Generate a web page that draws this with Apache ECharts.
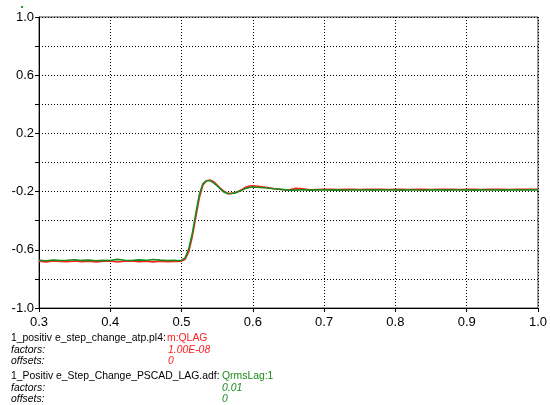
<!DOCTYPE html>
<html><head><meta charset="utf-8">
<script src="https://cdn.jsdelivr.net/npm/echarts@6/dist/echarts.min.js"></script>
<style>html,body{margin:0;padding:0;background:#fff}#c{width:550px;height:405px}</style>
</head><body><div id="c"></div>
<script>
var times = [0.30,0.31,0.32,0.33,0.34,0.35,0.36,0.37,0.38,0.39,0.40,0.41,0.42,0.43,0.44,0.45,0.46,0.47,0.48,0.49,
  0.495,0.50,0.505,0.51,0.515,0.52,0.525,0.53,0.535,0.54,0.545,0.55,0.555,0.56,0.565,0.57,0.575,0.58,0.585,0.59,0.595,0.60,
  0.61,0.62,0.63,0.64,0.65,0.66,0.67,0.68,0.69,0.70,0.71,0.72,0.73,0.74,0.75,0.76,0.77,0.78,0.79,0.80,
  0.81,0.82,0.83,0.84,0.85,0.86,0.87,0.88,0.89,0.90,0.91,0.92,0.93,0.94,0.95,0.96,0.97,0.98,0.99,1.00];
var atpQLAG = [-0.678,-0.683,-0.676,-0.680,-0.682,-0.677,-0.681,-0.679,-0.683,-0.678,-0.677,-0.684,-0.679,-0.676,-0.681,-0.678,-0.683,-0.679,-0.681,-0.680,
  -0.680,-0.678,-0.665,-0.615,-0.510,-0.375,-0.240,-0.155,-0.125,-0.120,-0.132,-0.155,-0.180,-0.200,-0.212,-0.212,-0.208,-0.198,-0.185,-0.170,-0.162,-0.160,
  -0.165,-0.172,-0.180,-0.186,-0.190,-0.178,-0.180,-0.188,-0.186,-0.185,-0.184,-0.186,-0.185,-0.184,-0.186,-0.185,-0.184,-0.185,-0.186,-0.184,
  -0.185,-0.186,-0.184,-0.185,-0.186,-0.184,-0.185,-0.184,-0.186,-0.185,-0.184,-0.186,-0.185,-0.184,-0.185,-0.186,-0.184,-0.185,-0.185,-0.184];
var pscadQrmsLag = [-0.672,-0.675,-0.670,-0.674,-0.672,-0.668,-0.673,-0.671,-0.675,-0.672,-0.674,-0.666,-0.672,-0.674,-0.669,-0.673,-0.667,-0.671,-0.674,-0.672,
  -0.675,-0.672,-0.655,-0.595,-0.490,-0.350,-0.220,-0.145,-0.125,-0.125,-0.140,-0.160,-0.185,-0.205,-0.215,-0.213,-0.210,-0.200,-0.190,-0.178,-0.172,-0.168,
  -0.172,-0.175,-0.180,-0.185,-0.190,-0.190,-0.187,-0.190,-0.188,-0.187,-0.190,-0.188,-0.191,-0.187,-0.189,-0.188,-0.190,-0.187,-0.189,-0.188,
  -0.190,-0.187,-0.189,-0.191,-0.188,-0.187,-0.190,-0.188,-0.189,-0.187,-0.190,-0.188,-0.189,-0.187,-0.190,-0.188,-0.187,-0.189,-0.188,-0.188];

function pairs(ts, vs){ return ts.map(function(t,i){ return [t, vs[i]]; }); }

var chart = echarts.init(document.getElementById('c'), null, {renderer:'canvas'});
var F = 'Liberation Sans, Arial, sans-serif';
var gridDot = {show:true, lineStyle:{color:'#000', width:1, type:[1,2]}};
chart.setOption({
  animation:false,
  grid:{left:39, right:9, top:17, bottom:97, show:true, borderColor:'#444', borderWidth:1, containLabel:false},
  xAxis:{type:'value', min:0.3, max:1.0, interval:0.1,
    axisLine:{show:true, onZero:false, lineStyle:{color:'#000', width:1}},
    axisTick:{show:true, length:4, lineStyle:{color:'#000'}},
    axisLabel:{color:'#000', fontFamily:F, fontSize:13, margin:8, formatter:function(v){return v.toFixed(1);}},
    splitLine:gridDot},
  yAxis:{type:'value', min:-1, max:1, interval:0.2,
    axisLine:{show:true, onZero:false, lineStyle:{color:'#000', width:1}},
    axisTick:{show:true, length:4, lineStyle:{color:'#000'}},
    axisLabel:{color:'#000', fontFamily:F, fontSize:13, margin:5,
      formatter:function(v, i){ return (i % 2 === 0) ? v.toFixed(1) : ''; }},
    splitLine:gridDot},
  series:[
    {type:'line', data:pairs(times, atpQLAG), showSymbol:false, symbol:'none', lineStyle:{color:'#ff2020', width:1.6}},
    {type:'line', data:pairs(times, pscadQrmsLag), showSymbol:false, symbol:'none', lineStyle:{color:'#1a8a1a', width:1.6}}
  ],
  graphic:[
    {type:'rect', left:21, top:6, shape:{width:2, height:2}, style:{fill:'#2a9a2a'}},
    {type:'text', left:11, top:333, style:{text:'1_positiv e_step_change_atp.pl4:', font:'10.4px '+F, fill:'#000'}},
    {type:'text', left:167, top:333, style:{text:'m:QLAG', font:'10.4px '+F, fill:'#ff2020'}},
    {type:'text', left:11, top:345, style:{text:'factors:', font:'italic 10.4px '+F, fill:'#000'}},
    {type:'text', left:168, top:345, style:{text:'1.00E-08', font:'italic 10.4px '+F, fill:'#ff2020'}},
    {type:'text', left:11, top:356, style:{text:'offsets:', font:'italic 10.4px '+F, fill:'#000'}},
    {type:'text', left:168, top:356, style:{text:'0', font:'italic 10.4px '+F, fill:'#ff2020'}},
    {type:'text', left:11, top:371, style:{text:'1_Positiv e_Step_Change_PSCAD_LAG.adf:', font:'10.4px '+F, fill:'#000'}},
    {type:'text', left:222, top:371, style:{text:'QrmsLag:1', font:'10.4px '+F, fill:'#1a8a1a'}},
    {type:'text', left:11, top:383, style:{text:'factors:', font:'italic 10.4px '+F, fill:'#000'}},
    {type:'text', left:222, top:383, style:{text:'0.01', font:'italic 10.4px '+F, fill:'#1a8a1a'}},
    {type:'text', left:11, top:394, style:{text:'offsets:', font:'italic 10.4px '+F, fill:'#000'}},
    {type:'text', left:222, top:394, style:{text:'0', font:'italic 10.4px '+F, fill:'#1a8a1a'}}
  ]
});
</script></body></html>
